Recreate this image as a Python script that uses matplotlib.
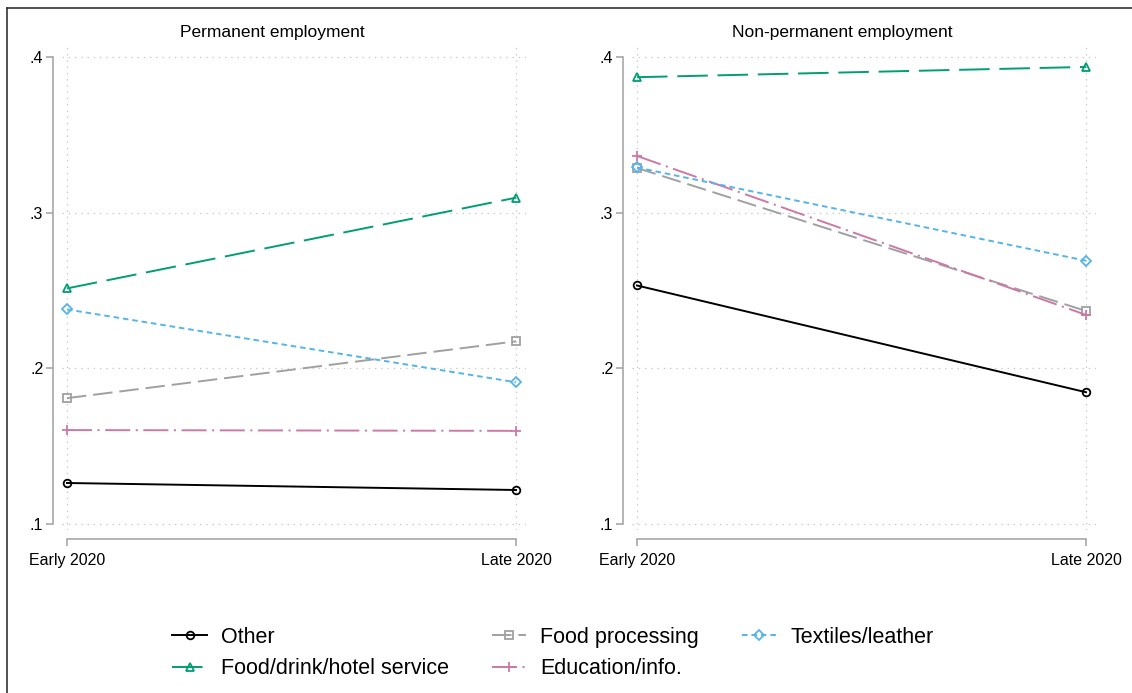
import matplotlib
matplotlib.use("Agg")
import matplotlib.pyplot as plt
from matplotlib.lines import Line2D

plt.rcParams['font.family'] = ['Liberation Sans', 'DejaVu Sans']
plt.rcParams['lines.scale_dashes'] = False

# data
periods = ["Early 2020", "Late 2020"]
panels = ["Permanent employment", "Non-permanent employment"]
sectors = ["Other", "Food/drink/hotel service", "Food processing",
           "Education/info.", "Textiles/leather"]
perm_vals = [
    [0.1263, 0.1218],
    [0.2513, 0.3096],
    [0.1808, 0.2173],
    [0.1603, 0.1598],
    [0.2378, 0.1910],
]
nonperm_vals = [
    [0.2532, 0.1846],
    [0.3870, 0.3936],
    [0.3287, 0.2368],
    [0.3364, 0.2343],
    [0.3290, 0.2691],
]
yticks = [0.1, 0.2, 0.3, 0.4]
ytick_labels = [".1", ".2", ".3", ".4"]

# styles
colors = ["black", "#009E73", "#A0A0A0", "#CC79A7", "#56B4E9"]
markers = ["o", "^", "s", "+", "D"]
msizes = [5.5, 6, 5.5, 7, 5.5]
dashes = [None, (22, 7), (14, 5), (18, 4, 1.5, 4), (4, 2.8)]

W, H = 1132, 693
fig = plt.figure(figsize=(W / 100, H / 100), dpi=100)

def style_axes(ax):
    ax.set_xlim(-0.012, 1.022)
    ax.set_ylim(0.0961, 0.4064)
    for s in ["top", "right"]:
        ax.spines[s].set_visible(False)
    ax.spines["left"].set_position(("outward", 6.2))
    ax.spines["bottom"].set_position(("outward", 6.5))
    ax.spines["left"].set_bounds(0.1, 0.4)
    ax.spines["bottom"].set_bounds(0, 1)
    for s in ["left", "bottom"]:
        ax.spines[s].set_color("#A0A0A0")
        ax.spines[s].set_linewidth(1.1)
    ax.set_yticks(yticks)
    ax.set_yticklabels(ytick_labels)
    ax.set_xticks([0, 1])
    ax.set_xticklabels(periods)
    ax.tick_params(axis="both", colors="#A0A0A0", length=5, width=1.1,
                   labelcolor="black", labelsize=11.5, pad=2)
    ax.tick_params(axis="x", pad=5)
    ax.grid(True, color="#C8C8C8", linestyle=(0, (1, 3.5)), linewidth=0.9)
    ax.set_axisbelow(True)
    ax.patch.set_visible(False)

handles = []
for p, vals in enumerate([perm_vals, nonperm_vals]):
    left = (61.6 + 570 * p) / W
    ax = fig.add_axes([left, (H - 530) / H, 464.3 / W, 483 / H])
    style_axes(ax)
    for i, name in enumerate(sectors):
        ls = "-" if dashes[i] is None else (0, dashes[i])
        mfc = colors[i] if markers[i] == "+" else "none"
        line, = ax.plot([0, 1], vals[i], color=colors[i], linestyle=ls,
                        linewidth=1.4, marker=markers[i], markersize=msizes[i],
                        markerfacecolor=mfc, markeredgecolor=colors[i],
                        markeredgewidth=1.3, label=name, clip_on=False)
        if p == 0:
            handles.append(line)
    fig.text((272 + 570 * p) / W, 1 - 32 / H, panels[p], ha="center",
             va="center", fontsize=12.5)

fig.legend(handles=handles, loc="center", ncol=3,
           bbox_to_anchor=(553 / W, 1 - 653 / H), frameon=False,
           fontsize=15.5, handlelength=1.6, handletextpad=0.65,
           columnspacing=2.0, labelspacing=0.5)

# outer frame (top and left edges visible)
fig.add_artist(Line2D([7 / W, 7 / W], [0, 1 - 8 / H], transform=fig.transFigure,
                      color="#333333", linewidth=1.2))
fig.add_artist(Line2D([7 / W, 1], [1 - 8 / H, 1 - 8 / H], transform=fig.transFigure,
                      color="#333333", linewidth=1.2))

fig.savefig("out.png", dpi=100)
